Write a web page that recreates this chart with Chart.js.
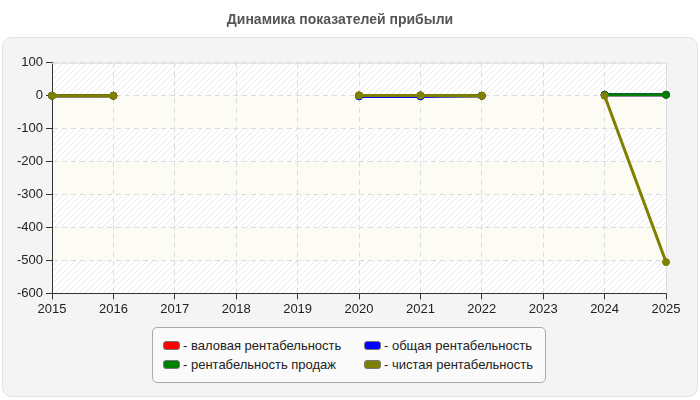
<!DOCTYPE html>
<html>
<head>
<meta charset="utf-8">
<script src="https://cdn.jsdelivr.net/npm/chart.js"></script>
<style>
  html, body { margin: 0; padding: 0; background: #fff; }
  #wrap { position: relative; width: 700px; height: 400px; font-family: "Liberation Sans", Arial, sans-serif; }
  #chart { position: absolute; left: 0; top: 0; }
  #legend {
    position: absolute; left: 152px; top: 327px; width: 392px; height: 54px;
    border: 1px solid #aaa; border-radius: 5px; background: #fafafa;
    display: grid; grid-template-columns: 201px 190px; align-content: center; row-gap: 4px;
    box-sizing: content-box;
  }
  #legend .item { display: flex; align-items: center; font-size: 13px; color: #222; padding-left: 10px; white-space: nowrap; }
  #legend .sw { width: 15px; height: 7px; border-radius: 3px; border: 1px solid #777; margin-right: 3px; }
</style>
</head>
<body>
<div id="wrap">
  <canvas id="chart" width="700" height="400"></canvas>
  <div id="legend"></div>
</div>
<script>
// years on the x axis
const years = ["2015", "2016", "2017", "2018", "2019", "2020", "2021", "2022", "2023", "2024", "2025"];

// series (null = no data for that year)
const grossMargin = [0, 0, null, null, null, 1, 1, 0, null, 3, 3];
const totalMargin = [0, 0, null, null, null, -2, -2, 0, null, 3, 3];
const salesMargin = [0, 0, null, null, null, 1, 1, 0, null, 3, 3];
const netMargin   = [0, 0, null, null, null, 1, 1, 0, null, 0, -505];

const seriesNames  = ["- валовая рентабельность", "- общая рентабельность", "- рентабельность продаж", "- чистая рентабельность"];
const seriesColors = ["#ff0000", "#0000ff", "#008000", "#808000"];

// hatch pattern for alternating bands
function makeHatch() {
  const c = document.createElement("canvas");
  c.width = 6; c.height = 6;
  const g = c.getContext("2d");
  g.fillStyle = "#ffffff";
  g.fillRect(0, 0, 6, 6);
  g.strokeStyle = "#e9e9e9";
  g.lineWidth = 1;
  g.beginPath();
  g.moveTo(0, 6); g.lineTo(6, 0);
  g.moveTo(-1, 1); g.lineTo(1, -1);
  g.moveTo(5, 7); g.lineTo(7, 5);
  g.stroke();
  return c;
}

const backdrop = {
  id: "backdrop",
  beforeDraw(chart) {
    const ctx = chart.ctx;
    const area = chart.chartArea;
    const y = chart.scales.y;
    ctx.save();
    // panel
    ctx.beginPath();
    ctx.roundRect(2.5, 37.5, 695, 359, 9);
    ctx.fillStyle = "#f4f4f4";
    ctx.fill();
    ctx.strokeStyle = "#e2e2e2";
    ctx.lineWidth = 1;
    ctx.stroke();
    // alternating bands between ticks
    const hatch = ctx.createPattern(makeHatch(), "repeat");
    const ticks = y.ticks.map(t => t.value).sort((a, b) => b - a);
    for (let i = 0; i < ticks.length - 1; i++) {
      const top = y.getPixelForValue(ticks[i]);
      const bot = y.getPixelForValue(ticks[i + 1]);
      ctx.fillStyle = i % 2 === 0 ? hatch : "#fcfcf5";
      ctx.fillRect(area.left, top, area.right - area.left, bot - top);
    }
    ctx.restore();
  },
  beforeDatasetsDraw(chart) {
    const ctx = chart.ctx;
    const a = chart.chartArea;
    ctx.save();
    ctx.strokeStyle = "#dddddd";
    ctx.lineWidth = 1;
    ctx.beginPath();
    ctx.moveTo(a.left, a.top + 0.5);
    ctx.lineTo(a.right + 0.5, a.top + 0.5);
    ctx.lineTo(a.right + 0.5, a.bottom);
    ctx.stroke();
    ctx.restore();
  }
};

// later series are painted over earlier ones
const dataSets = [grossMargin, totalMargin, salesMargin, netMargin].map((d, i) => ({
  label: seriesNames[i],
  data: d,
  order: 3 - i,
  borderColor: seriesColors[i],
  backgroundColor: seriesColors[i],
  borderWidth: 3,
  pointRadius: 3.5,
  pointBorderWidth: 1,
  pointHoverRadius: 3.5,
  spanGaps: false,
  tension: 0
}));

const axisFont = { family: "'Liberation Sans', Arial, sans-serif", size: 13 };

const chart = new Chart(document.getElementById("chart"), {
  type: "line",
  data: { labels: years, datasets: dataSets },
  options: {
    responsive: false,
    animation: false,
    layout: { padding: { left: 14, right: 34, top: 0, bottom: 81 } },
    plugins: {
      legend: { display: false },
      tooltip: { enabled: false },
      title: {
        display: true,
        text: "Динамика показателей прибыли",
        color: "#555",
        font: { family: "'Liberation Sans', Arial, sans-serif", size: 14, weight: "bold" },
        padding: { top: 12, bottom: 34 }
      }
    },
    scales: {
      x: {
        offset: false,
        grid: { color: "#dcdcdc", tickColor: "#333", tickLength: 6 },
        border: { color: "#333", width: 1, dash: [5, 4] },
        ticks: { color: "#222", font: axisFont, padding: 2, maxRotation: 0, autoSkip: false }
      },
      y: {
        min: -600,
        max: 100,
        grid: { color: "#dcdcdc", tickColor: "#333", tickLength: 6 },
        border: { color: "#333", width: 1, dash: [5, 4] },
        ticks: { color: "#222", font: axisFont, padding: 3, stepSize: 100 }
      }
    }
  },
  plugins: [backdrop]
});

// html legend built from the chart datasets
const legendEl = document.getElementById("legend");
chart.data.datasets.forEach(ds => {
  const item = document.createElement("div");
  item.className = "item";
  const sw = document.createElement("span");
  sw.className = "sw";
  sw.style.background = ds.borderColor;
  item.appendChild(sw);
  item.appendChild(document.createTextNode(ds.label));
  legendEl.appendChild(item);
});
</script>
</body>
</html>
